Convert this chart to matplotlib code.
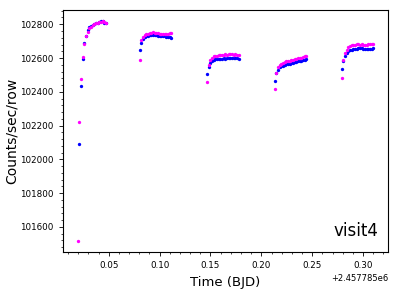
import numpy as np
import matplotlib
matplotlib.use("Agg")
import matplotlib.pyplot as plt
from matplotlib.ticker import MultipleLocator

# ----------------------------
# Datos (tiempo relativo a 2457785 BJD)
# ----------------------------
orbit_start = [0.0195, 0.0805, 0.1467, 0.2131, 0.2790]
dt_exp = 0.00163

# serie azul (NaN = fuera de rango)
blue = [
    [np.nan, 102090, 102437, 102595, 102688, 102729, 102766, 102785, 102790, 102798,
     102802, 102806, 102810, 102815, 102818, 102820, 102810, 102805],
    [102646, 102690, 102712, 102722, 102728, 102732, 102735, 102736, 102736, 102735,
     102734, 102733, 102733, 102732, 102730, 102728, 102725, 102722, 102725, 102720],
    [102503, 102544, 102570, 102583, 102590, 102592, 102595, 102596, 102597, 102596,
     102598, 102597, 102598, 102600, 102598, 102600, 102599, 102600, 102598, 102597],
    [102467, 102512, 102532, 102545, 102550, 102555, 102558, 102562, 102565, 102567,
     102570, 102572, 102575, 102577, 102580, 102582, 102585, 102587, 102590, 102593],
    [102536, 102580, 102610, 102630, 102642, 102648, 102650, 102652, 102655, 102656,
     102658, 102660, 102658, 102656, 102655, 102656, 102655, 102654, 102656, 102658],
]

# serie magenta
magenta = [
    [101517, 102219, 102477, 102605, 102682, 102733, 102755, 102775, 102785, 102795,
     102800, 102805, 102808, 102812, 102815, 102818, 102812, 102808],
    [102587, 102705, 102722, 102735, 102740, 102745, 102748, 102750, 102752, 102750,
     102748, 102746, 102745, 102744, 102742, 102740, 102742, 102745, 102748, 102750],
    [102457, 102558, 102587, 102600, 102610, 102612, 102615, 102618, 102620, 102618,
     102620, 102622, 102620, 102622, 102625, 102622, 102620, 102622, 102620, 102618],
    [102416, 102512, 102548, 102558, 102565, 102570, 102575, 102580, 102582, 102585,
     102588, 102590, 102592, 102595, 102598, 102600, 102603, 102606, 102610, 102615],
    [102479, 102587, 102627, 102650, 102665, 102670, 102675, 102678, 102680, 102682,
     102685, 102680, 102682, 102680, 102678, 102680, 102682, 102683, 102684, 102686],
]

T0 = 2457785.0


def main() -> None:
    fig = plt.figure(figsize=(3.98, 2.90), dpi=100)
    ax = fig.add_axes([0.158, 0.131, 0.817, 0.835])

    for t0, b, m in zip(orbit_start, blue, magenta):
        t = T0 + t0 + dt_exp * np.arange(len(b))
        ax.plot(t, b, "o", color="#0000ff", ms=2.4, mew=0)
        ax.plot(t, m, "o", color="#ff00ff", ms=2.4, mew=0)

    ax.yaxis.set_major_locator(MultipleLocator(200))
    ax.yaxis.set_minor_locator(MultipleLocator(40))
    ax.xaxis.set_major_locator(MultipleLocator(0.05))
    ax.xaxis.set_minor_locator(MultipleLocator(0.01))
    ax.tick_params(which="major", length=3.2, width=0.6, labelsize=6.3)
    ax.tick_params(which="minor", length=1.6, width=0.5)
    ax.xaxis.get_offset_text().set_fontsize(6)
    for s in ax.spines.values():
        s.set_linewidth(0.8)

    ax.set_xlabel("Time (BJD)", fontsize=9.5)
    ax.set_ylabel("Counts/sec/row", fontsize=10)
    ax.yaxis.set_label_coords(-0.135, 0.5)
    ax.text(0.97, 0.05, "visit4", transform=ax.transAxes, ha="right", va="bottom",
            fontsize=12)

    fig.savefig("out.png", dpi=100)


if __name__ == "__main__":
    main()
